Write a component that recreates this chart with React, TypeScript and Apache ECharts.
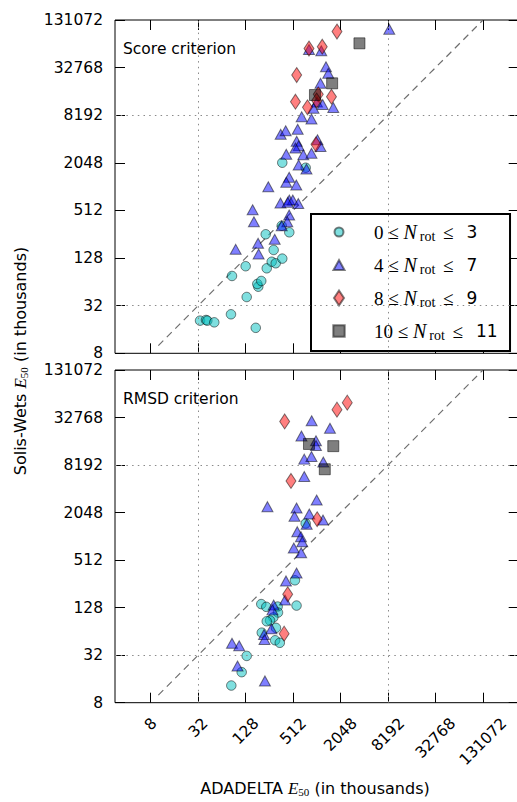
import React, { useEffect, useRef } from 'react';
import * as echarts from 'echarts';

// Groups by number of rotatable bonds
const GROUP_LOW = [0, 4, 8, 10];
const GROUP_HIGH = [3, 7, 9, 11];
const GROUP_NAMES = GROUP_LOW.map((lo, i) => `${lo} ≤ Nrot ≤ ${GROUP_HIGH[i]}`);

// Axis exponents (log2 of values in thousands): 8 ... 131072
const AXIS_MIN_EXP = 3;
const AXIS_MAX_EXP = 17;
const TICK_STEP_EXP = 2;
const GRID_LINE_VALUES = [32, 8192];
const DIAGONAL_VALUES = [10, 131072];

// [ADADELTA E50, Solis-Wets E50] in thousands — Score criterion
const SCORE_N0_3 = [
  [33.8, 20.7], [40.2, 21.1], [41.8, 20.7], [51.2, 19.7], [83.4, 24.9], [172, 16.8],
  [132, 41.2], [185, 55.6], [180, 60.2], [202, 65.7], [85.9, 76], [128, 101],
  [237, 95], [274, 115], [308, 110], [373, 126], [290, 162], [230, 256],
  [458, 271], [367, 328], [373, 2055], [739, 1777],
];
const SCORE_N4_7 = [
  [8489, 99900], [814, 55450], [1165, 53570], [1336, 33630], [1429, 27740], [1139, 20740],
  [1028, 12030], [928, 10020], [1213, 11190], [1654, 10250], [657, 7844], [875, 7332],
  [356, 4698], [412, 5218], [585, 5435], [568, 3832], [602, 3371], [548, 3152],
  [1043, 4014], [1139, 3293], [689, 2595], [875, 2703], [419, 2626], [602, 1922],
  [756, 1710], [248, 1022], [456, 1347], [419, 1165], [562, 1074], [354, 635],
  [458, 694], [507, 694], [437, 649], [595, 626], [157, 523], [163, 369],
  [456, 448], [432, 369], [367, 328], [95.7, 165], [184, 197], [187, 144], [299, 221],
];
const SCORE_N8_9 = [
  [1843, 93650], [814, 57080], [1199, 60190], [568, 26400], [548, 12140],
  [779, 10310], [1067, 15060], [1018, 12570], [1569, 14040], [998, 3512],
];
const SCORE_N10_11 = [[3553, 66450], [1601, 20740], [969, 14750]];

// RMSD criterion
const RMSD_N0_3 = [
  [739, 1491], [540, 284], [566, 136], [202, 142], [234, 131], [326, 132],
  [329, 111], [287, 96.1], [261, 88.1], [237, 86], [310, 71], [205, 61.7],
  [303, 49.4], [347, 45.9], [132, 31.3], [114, 19.5], [84.2, 13.2],
];
const RMSD_N4_7 = [
  [880, 29840], [1502, 23970], [653, 19150], [998, 16650], [998, 14510], [709, 9735],
  [875, 10530], [1236, 8970], [709, 5873], [242, 2434], [566, 2342], [1018, 2960],
  [533, 1839], [821, 1967], [1225, 1651], [761, 1461], [578, 1174], [644, 1015],
  [669, 877], [522, 730], [648, 636], [566, 352], [416, 279], [404, 160],
  [290, 138], [280, 120], [272, 69], [219, 58.5], [222, 50.6], [85.9, 45.3],
  [106, 42.1], [101, 23.3], [225, 15.1],
];
const RMSD_N8_9 = [
  [2489, 50570], [1843, 41250], [400, 29230], [481, 5153], [1033, 1686], [437, 189], [394, 59.9],
];
const RMSD_N10_11 = [[814, 15160], [1654, 14220], [1291, 7246]];

const PANEL_TITLES = ['Score criterion', 'RMSD criterion'];
const PANEL_DATA = [
  [SCORE_N0_3, SCORE_N4_7, SCORE_N8_9, SCORE_N10_11],
  [RMSD_N0_3, RMSD_N4_7, RMSD_N8_9, RMSD_N10_11],
];

const COLORS = ['#00bfbf', '#0000ff', '#ff0000', '#000000'];
const SYMBOLS = ['circle', 'triangle', 'diamond', 'rect'];
const SYMBOL_SIZES: any[] = [9.5, [11, 10], [10, 15], 11];
const LEGEND_ICONS = [
  'path://M0,0M15,15M12,7.5A4.5,4.5,0,1,1,3,7.5A4.5,4.5,0,1,1,12,7.5Z',
  'path://M0,0M15,15M7.5,2.5L13,12.5L2,12.5Z',
  'path://M0,0M15,15M7.5,0L12.5,7.5L7.5,15L2.5,7.5Z',
  'path://M0,0M15,15M1.8,1.8L13.2,1.8L13.2,13.2L1.8,13.2Z',
];

const toLog = (pts: number[][]) => pts.map(([x, y]) => [Math.log2(x), Math.log2(y)]);
const fmtPow = (v: number) => String(Math.round(Math.pow(2, v)));

const TICK_FONT = 15.5;
const SANS = 'DejaVu Sans';
const SERIF = 'Liberation Serif';

function buildOption(): any {
  const frameLeft = 115;
  const frameWidth = 403.7;
  const dataLeft = 150.7;
  const dataWidth = 332.3;
  const panels = [
    { top: 20, height: 333.3 },
    { top: 370, height: 332.7 },
  ];

  const grid: any[] = [];
  panels.forEach((p) => {
    grid.push({
      left: frameLeft, top: p.top, width: frameWidth, height: p.height,
      show: true, borderColor: '#000', borderWidth: 1, backgroundColor: 'transparent',
      containLabel: false, outerBoundsMode: 'none',
    });
    grid.push({
      left: dataLeft, top: p.top, width: dataWidth, height: p.height,
      show: false, containLabel: false, outerBoundsMode: 'none',
    });
  });

  const tickStyle = { show: true, inside: true, length: 10, lineStyle: { color: '#000', width: 1 } };

  // rotated x tick labels, shifted so that their bounding boxes are top-aligned
  const xRich: any = {};
  for (let n = 1; n <= 6; n++) {
    const L = n * 0.636 * TICK_FONT;
    xRich['d' + n] = {
      fontSize: TICK_FONT, fontFamily: SANS, color: '#000',
      padding: [L / 2, L / 2, 0, 0],
    };
  }

  const tickAxis = (gridIndex: number, position: string, label: any) => ({
    type: 'value', gridIndex, position,
    min: AXIS_MIN_EXP, max: AXIS_MAX_EXP, interval: TICK_STEP_EXP,
    axisLine: { show: false },
    axisTick: tickStyle,
    splitLine: { show: false },
    axisLabel: label,
  });

  const xLabel = {
    show: true, rotate: 45, align: 'center', verticalAlign: 'middle', margin: 18,
    fontSize: TICK_FONT, fontFamily: SANS, color: '#000',
    showMinLabel: true, showMaxLabel: true,
    formatter: (v: number) => {
      const s = fmtPow(v);
      return `{d${s.length}|${s}}`;
    },
    rich: xRich,
  };
  const yLabel = {
    show: true, margin: 12, fontSize: TICK_FONT, fontFamily: SANS, color: '#000',
    showMinLabel: true, showMaxLabel: true, formatter: fmtPow,
  };

  const xAxis: any[] = [];
  const yAxis: any[] = [];
  panels.forEach((_, pi) => {
    const fg = pi * 2;
    const dg = pi * 2 + 1;
    xAxis.push({ type: 'value', gridIndex: fg, min: 0, max: 1, show: false });
    xAxis.push(tickAxis(dg, 'bottom', pi === 1 ? xLabel : { show: false }));
    xAxis.push(tickAxis(dg, 'top', { show: false }));
    yAxis.push(tickAxis(fg, 'left', yLabel));
    yAxis.push(tickAxis(fg, 'right', { show: false }));
    yAxis.push({ type: 'value', gridIndex: dg, min: AXIS_MIN_EXP, max: AXIS_MAX_EXP, show: false });
  });

  const gridLineStyle = { color: '#8a8a8a', width: 1, type: [1.5, 4.2] };
  const series: any[] = [];
  panels.forEach((_, pi) => {
    const fx = pi * 3, fy = pi * 3;
    const dx = pi * 3 + 1, dy = pi * 3 + 2;
    series.push({
      type: 'line', xAxisIndex: fx, yAxisIndex: fy, data: [[0, AXIS_MIN_EXP]],
      showSymbol: false, silent: true, z: 1, lineStyle: { opacity: 0 },
      markLine: {
        silent: true, symbol: ['none', 'none'], label: { show: false },
        lineStyle: gridLineStyle, animation: false,
        data: GRID_LINE_VALUES.map((v) => ({ yAxis: Math.log2(v) })),
      },
    });
    series.push({
      type: 'line', xAxisIndex: dx, yAxisIndex: dy,
      data: DIAGONAL_VALUES.map((v) => [Math.log2(v), Math.log2(v)]),
      showSymbol: false, silent: true, z: 2,
      lineStyle: { color: '#6e6e6e', width: 1.2, type: [7, 5] },
      markLine: {
        silent: true, symbol: ['none', 'none'], label: { show: false },
        lineStyle: gridLineStyle, animation: false,
        data: GRID_LINE_VALUES.map((v) => ({ xAxis: Math.log2(v) })),
      },
    });
    PANEL_DATA[pi].forEach((pts, gi) => {
      series.push({
        type: 'scatter', name: GROUP_NAMES[gi], xAxisIndex: dx, yAxisIndex: dy,
        data: toLog(pts), symbol: SYMBOLS[gi], symbolSize: SYMBOL_SIZES[gi], z: 3 + gi,
        itemStyle: { color: COLORS[gi], opacity: 0.5, borderColor: '#000', borderWidth: 1 },
      });
    });
  });

  const legend = {
    show: true, left: 311, top: 214, orient: 'vertical',
    padding: [7, 12.4, 9, 19.5],
    itemWidth: 15, itemHeight: 15, itemGap: 11,
    backgroundColor: '#fff', borderColor: '#000', borderWidth: 2, borderRadius: 0,
    selectedMode: false,
    data: GROUP_NAMES.map((n, i) => ({ name: n, icon: LEGEND_ICONS[i] })),
    formatter: (name: string) => {
      const i = GROUP_NAMES.indexOf(name);
      return `{a|${GROUP_LOW[i]}}{m| ≤ }{i|N}{s|rot}{m2| ≤}{n|${GROUP_HIGH[i]}}`;
    },
    textStyle: {
      color: '#000',
      rich: {
        a: { fontFamily: SERIF, fontSize: 19, lineHeight: 20, color: '#000', padding: [0, 0, 0, 22.5] },
        m: { fontFamily: SERIF, fontSize: 19, lineHeight: 20, color: '#000' },
        i: { fontFamily: SERIF, fontStyle: 'italic', fontSize: 20, lineHeight: 20, color: '#000', padding: [0, 3, 0, 0] },
        s: { fontFamily: SERIF, fontSize: 14, lineHeight: 12, color: '#000', padding: [8, 0, 0, 0] },
        m2: { fontFamily: SERIF, fontSize: 19, lineHeight: 20, color: '#000', padding: [0, 0, 0, 3] },
        n: { fontFamily: SANS, fontSize: 17, lineHeight: 20, color: '#000', padding: [0, 0, 0, 13] },
      },
    },
  };

  const e50Rich = {
    e: { fontFamily: SERIF, fontStyle: 'italic', fontSize: 17, lineHeight: 18, fill: '#000' },
    s: { fontFamily: SERIF, fontSize: 11, lineHeight: 11, padding: [7, 0, 0, 0], fill: '#000' },
  };

  const graphic = [
    {
      type: 'text', x: 123, y: 48.5, silent: true,
      style: { text: PANEL_TITLES[0], fontSize: TICK_FONT, fontFamily: SANS, fill: '#000', align: 'left', verticalAlign: 'middle' },
    },
    {
      type: 'text', x: 123, y: 398.5, silent: true,
      style: { text: PANEL_TITLES[1], fontSize: TICK_FONT, fontFamily: SANS, fill: '#000', align: 'left', verticalAlign: 'middle' },
    },
    {
      type: 'text', x: 315, y: 788, silent: true,
      style: {
        text: 'ADADELTA {e|E}{s|50} (in thousands)', fontSize: 16, lineHeight: 18, fontFamily: SANS,
        fill: '#000', align: 'center', verticalAlign: 'middle', rich: e50Rich,
      },
    },
    {
      type: 'text', x: 20, y: 361, rotation: Math.PI / 2, silent: true,
      style: {
        text: 'Solis-Wets {e|E}{s|50} (in thousands)', fontSize: 16, lineHeight: 18, fontFamily: SANS,
        fill: '#000', align: 'center', verticalAlign: 'middle', rich: e50Rich,
      },
    },
  ];

  return {
    animation: false,
    backgroundColor: '#fff',
    textStyle: { fontFamily: SANS },
    grid, xAxis, yAxis, series, legend, graphic,
  };
}

export default function App() {
  const ref = useRef<HTMLDivElement>(null);
  useEffect(() => {
    document.body.style.margin = '0';
    if (!ref.current) return;
    const chart = echarts.init(ref.current, undefined, { renderer: 'svg' });
    chart.setOption(buildOption());
    return () => chart.dispose();
  }, []);
  return <div ref={ref} style={{ width: 517, height: 802 }} />;
}
